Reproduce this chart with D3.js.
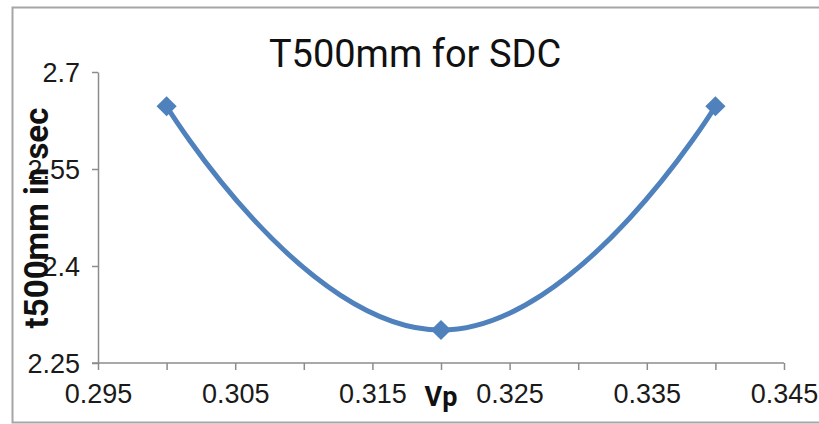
<!DOCTYPE html>
<meta charset="utf-8">
<style>
  body { margin: 0; background: #fff; }
  svg { display: block; font-family: Roboto, "Noto Sans", sans-serif; }
  .axis path, .axis line { stroke: #8c8c8c; stroke-width: 1.5; }
  .axis text { fill: #1a1a1a; font-size: 27px; }
</style>
<script src="https://d3js.org/d3.v7.min.js"></script>
<svg width="819" height="424"></svg>
<script>
const vp = [0.30, 0.32, 0.34];
const t500 = [2.647, 2.301, 2.647];
const xTickValues = [0.295, 0.300, 0.305, 0.310, 0.315, 0.320, 0.325, 0.330, 0.335, 0.340, 0.345];
const xTickLabels = ['0.295', '', '0.305', '', '0.315', '', '0.325', '', '0.335', '', '0.345'];
const yTickValues = [2.25, 2.4, 2.55, 2.7];
const yTickLabels = ['2.25', '2.4', '2.55', '2.7'];

const svg = d3.select('svg');

// outer chart frame
svg.append('rect')
  .attr('x', 12.5).attr('y', 7.5)
  .attr('width', 830).attr('height', 415)
  .attr('fill', 'none')
  .attr('stroke', '#a6a6a6')
  .attr('stroke-width', 2);

const x = d3.scaleLinear().domain([0.295, 0.345]).range([98, 784]);
const y = d3.scaleLinear().domain([2.25, 2.7]).range([363, 72]);

const xAxis = svg.append('g')
  .attr('class', 'axis')
  .attr('transform', `translate(0,${y(2.25)})`)
  .call(d3.axisBottom(x)
    .tickValues(xTickValues)
    .tickFormat((d, i) => xTickLabels[i])
    .tickSizeInner(7).tickSizeOuter(0)
    .tickPadding(14));
xAxis.select('.domain').attr('d', `M${x(0.295) - 6},0H${x(0.345)}`);

const yAxis = svg.append('g')
  .attr('class', 'axis')
  .attr('transform', `translate(${x(0.295)},0)`)
  .call(d3.axisLeft(y)
    .tickValues(yTickValues)
    .tickFormat((d, i) => yTickLabels[i])
    .tickSizeInner(6).tickSizeOuter(0)
    .tickPadding(12));
yAxis.selectAll('text').attr('dy', '0.36em');

// excel-style smoothing, looser than catmull-rom
const line = d3.line()
  .x((d, i) => x(vp[i]))
  .y(d => y(d))
  .curve(d3.curveCardinal.tension(-0.5));

svg.append('path')
  .datum(t500)
  .attr('d', line)
  .attr('fill', 'none')
  .attr('stroke', '#4f81bd')
  .attr('stroke-width', 5);

svg.selectAll('.marker')
  .data(t500)
  .join('path')
  .attr('class', 'marker')
  .attr('d', d3.symbol(d3.symbolDiamond2, 260))
  .attr('transform', (d, i) => `translate(${x(vp[i])},${y(d)})`)
  .attr('fill', '#4f81bd');

svg.append('text')
  .attr('x', 415).attr('y', 67)
  .attr('text-anchor', 'middle')
  .attr('font-size', 38)
  .attr('fill', '#111')
  .text('T500mm for SDC');

svg.append('text')
  .attr('x', x(0.32)).attr('y', 406)
  .attr('text-anchor', 'middle')
  .attr('font-size', 27)
  .attr('font-weight', 'bold')
  .attr('fill', '#111')
  .text('Vp');

svg.append('text')
  .attr('transform', 'translate(48,218) rotate(-90)')
  .attr('text-anchor', 'middle')
  .attr('font-size', 33)
  .attr('font-weight', 'bold')
  .attr('fill', '#111')
  .text('t500mm in sec');
</script>
